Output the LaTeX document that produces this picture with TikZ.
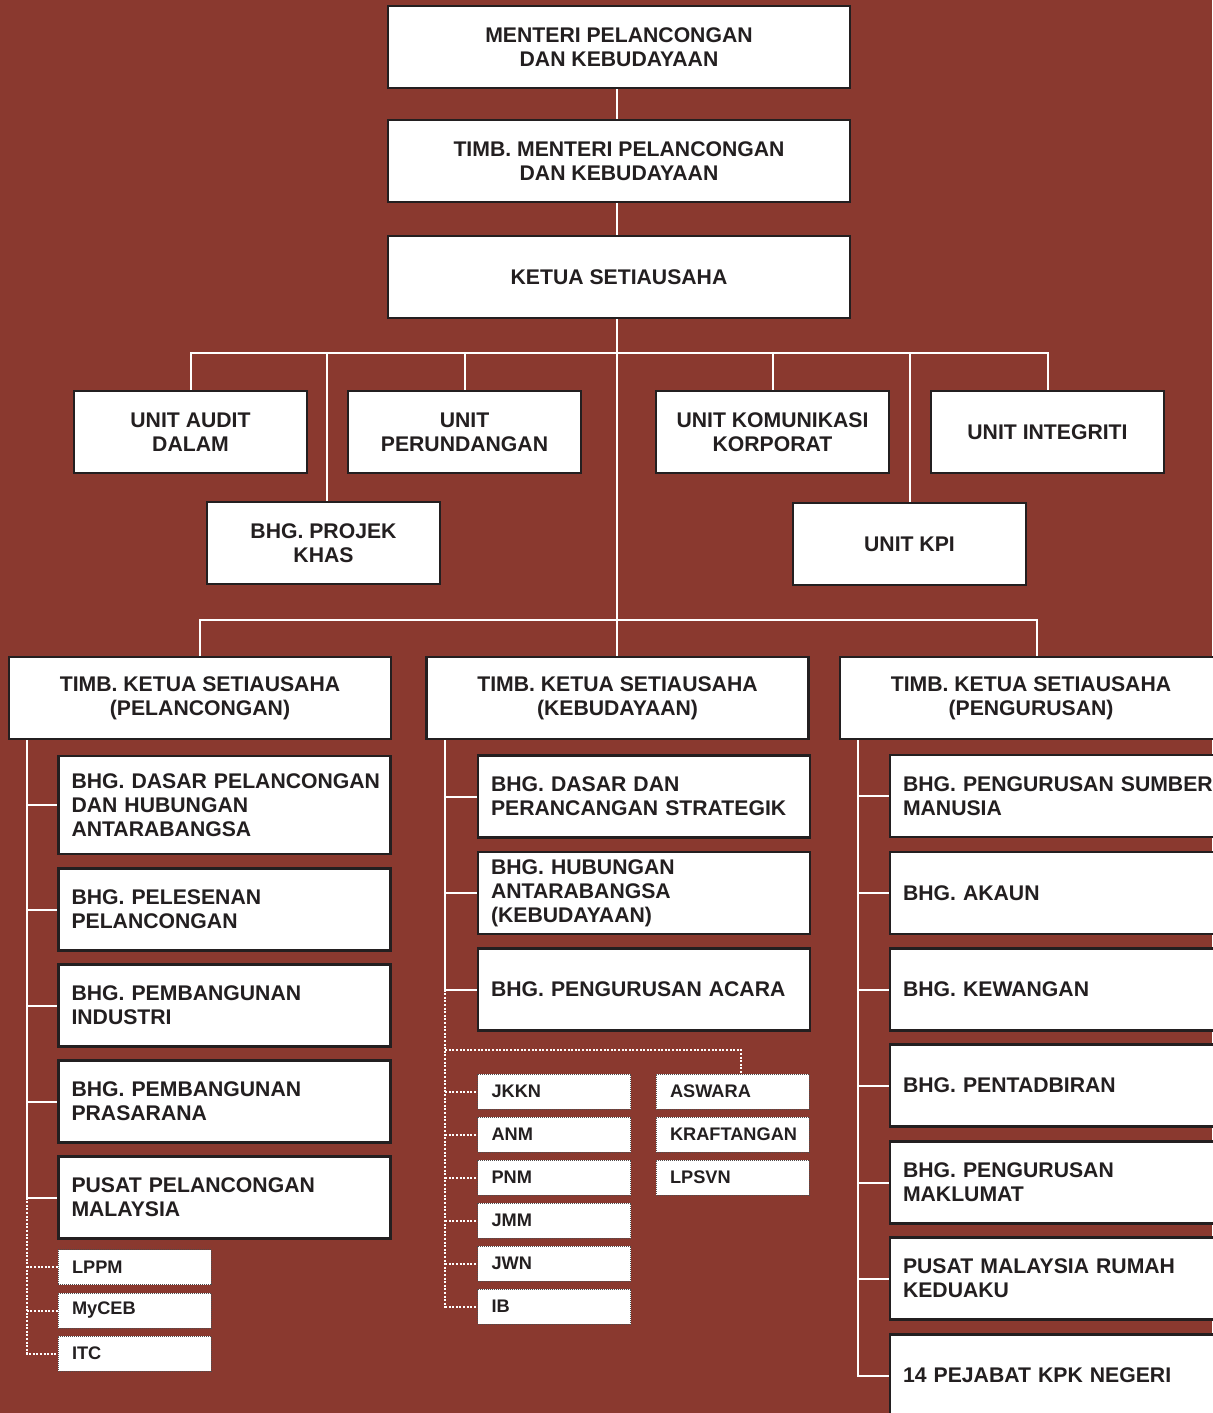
\documentclass[tikz,border=0pt]{standalone}
\usepackage{fontspec}
\setmainfont{Liberation Sans}
\definecolor{bgred}{RGB}{138,57,47}
\definecolor{boxline}{RGB}{35,31,32}

\begin{document}
\begin{tikzpicture}[x=0.5pt,y=-0.5pt]
  \tikzset{
    box/.style={draw=boxline, fill=white, line width=1.25pt, text=boxline,
      font=\bfseries\fontsize{10.6}{12}\selectfont, align=center,
      minimum height=41pt, inner sep=2pt},
    topbox/.style={box, minimum width=231pt},
    unitbox/.style={box, minimum width=116.5pt},
    tksbox/.style={box, minimum width=191pt},
    subbox/.style={box, align=left, text width=153pt, inner xsep=6.5pt},
    agency/.style={draw=boxline!80, dash pattern=on 0.5pt off 0.5pt, line width=0.5pt,
      fill=white, text=boxline, font=\bfseries\fontsize{9.1}{10}\selectfont,
      align=left, text width=62.5pt, inner xsep=7pt, minimum height=17.5pt},
    link/.style={draw=white, line width=1pt},
    dotlink/.style={draw=white, line width=1pt, dash pattern=on 1pt off 0.8pt},
  }
  \fill[bgred] (0,0) rectangle (1212,1413);
  \useasboundingbox (0,0) rectangle (1212,1413);

  % top of the ministry
  \node[topbox] (menteri) at (619,47) {MENTERI PELANCONGAN\\DAN KEBUDAYAAN};
  \node[topbox] (timb) at (619,161) {TIMB. MENTERI PELANCONGAN\\DAN KEBUDAYAAN};
  \node[topbox] (ksu) at (619,277) {KETUA SETIAUSAHA};

  % units under the KSU
  \node[unitbox] (audit) at (190.5,432) {UNIT AUDIT\\DALAM};
  \node[unitbox] (perundangan) at (464.5,432) {UNIT\\PERUNDANGAN};
  \node[unitbox] (komunikasi) at (772.5,432) {UNIT KOMUNIKASI\\KORPORAT};
  \node[unitbox] (integriti) at (1047.5,432) {UNIT INTEGRITI};
  \node[unitbox] (projek) at (323.5,543) {BHG. PROJEK\\KHAS};
  \node[unitbox] (kpi) at (909.5,544) {UNIT KPI};

  % the three deputies
  \node[tksbox] (tksuP) at (200,698) {TIMB. KETUA SETIAUSAHA\\(PELANCONGAN)};
  \node[tksbox] (tksuK) at (617.5,698) {TIMB. KETUA SETIAUSAHA\\(KEBUDAYAAN)};
  \node[tksbox] (tksuU) at (1031,698) {TIMB. KETUA SETIAUSAHA\\(PENGURUSAN)};

  % pelancongan
  \node[subbox, minimum height=49pt] (dasarP) at (224.5,805) {\mbox{BHG. DASAR PELANCONGAN}\\DAN HUBUNGAN\\ANTARABANGSA};
  \node[subbox] (pelesenan) at (224.5,909.5) {BHG. PELESENAN\\PELANCONGAN};
  \node[subbox] (industri) at (224.5,1005.5) {BHG. PEMBANGUNAN\\INDUSTRI};
  \node[subbox] (prasarana) at (224.5,1101.5) {BHG. PEMBANGUNAN\\PRASARANA};
  \node[subbox] (pusatP) at (224.5,1197.5) {PUSAT PELANCONGAN\\MALAYSIA};
  \node[agency] (lppm) at (134.5,1267) {LPPM};
  \node[agency] (myceb) at (134.5,1310.5) {MyCEB};
  \node[agency] (itc) at (134.5,1353.5) {ITC};

  % kebudayaan
  \node[subbox] (dasarK) at (644,796.5) {BHG. DASAR DAN\\PERANCANGAN STRATEGIK};
  \node[subbox] (hubungan) at (644,893) {BHG. HUBUNGAN\\ANTARABANGSA\\(KEBUDAYAAN)};
  \node[subbox] (acara) at (644,989.5) {BHG. PENGURUSAN ACARA};
  \node[agency] (jkkn) at (554,1091.5) {JKKN};
  \node[agency] (anm) at (554,1134.5) {ANM};
  \node[agency] (pnm) at (554,1177.5) {PNM};
  \node[agency] (jmm) at (554,1220.5) {JMM};
  \node[agency] (jwn) at (554,1263.5) {JWN};
  \node[agency] (ib) at (554,1306.5) {IB};
  \node[agency] (aswara) at (732.5,1091.5) {ASWARA};
  \node[agency] (kraftangan) at (732.5,1134.5) {KRAFTANGAN};
  \node[agency] (lpsvn) at (732.5,1177.5) {LPSVN};

  % pengurusan
  \node[subbox] (sumber) at (1056,796) {\mbox{BHG. PENGURUSAN SUMBER}\\MANUSIA};
  \node[subbox] (akaun) at (1056,893) {BHG. AKAUN};
  \node[subbox] (kewangan) at (1056,989.5) {BHG. KEWANGAN};
  \node[subbox] (pentadbiran) at (1056,1085.5) {BHG. PENTADBIRAN};
  \node[subbox] (maklumat) at (1056,1182.5) {BHG. PENGURUSAN\\MAKLUMAT};
  \node[subbox] (rumah) at (1056,1278.5) {PUSAT MALAYSIA RUMAH\\KEDUAKU};
  \node[subbox] (kpk) at (1056,1375.5) {14 PEJABAT KPK NEGERI};

  % links
  \coordinate (bus1) at (617,353);
  \coordinate (bus2) at (617,620);
  \coordinate (busA) at (741,1050);
  \draw[link] ([xshift=-1pt]menteri.south) -- ([xshift=-1pt]timb.north);
  \draw[link] ([xshift=-1pt]timb.south) -- ([xshift=-1pt]ksu.north);
  \draw[link] ([xshift=-1pt]ksu.south) -- ([xshift=-1pt]ksu.south |- tksuK.north);
  \draw[link] (audit.north) -- (audit.north |- bus1) -| (integriti.north);
  \draw[link] (perundangan.north) -- (perundangan.north |- bus1);
  \draw[link] (komunikasi.north) -- (komunikasi.north |- bus1);
  \draw[link] ([xshift=1.75pt]projek.north) -- ([xshift=1.75pt]projek.north |- bus1);
  \draw[link] (kpi.north) -- (kpi.north |- bus1);
  \draw[link] (tksuP.north) -- (tksuP.north |- bus2) -| ([xshift=3pt]tksuU.north);

  \path (tksuP.south west) ++(9.5pt,0) coordinate (trunkP);
  \path (tksuK.south west) ++(10pt,0) coordinate (trunkK);
  \path (tksuU.south west) ++(9.5pt,0) coordinate (trunkU);

  \draw[link] (trunkP) |- (pusatP.west);
  \foreach \n in {dasarP,pelesenan,industri,prasarana}
    \draw[link] (trunkP |- \n.west) -- (\n.west);
  \draw[dotlink] (trunkP |- pusatP.west) |- (itc.west);
  \foreach \n in {lppm,myceb}
    \draw[dotlink] (trunkP |- \n.west) -- (\n.west);

  \draw[link] (trunkK) |- (acara.west);
  \foreach \n in {dasarK,hubungan}
    \draw[link] (trunkK |- \n.west) -- (\n.west);
  \draw[dotlink] (trunkK |- acara.west) |- (ib.west);
  \foreach \n in {jkkn,anm,pnm,jmm,jwn}
    \draw[dotlink] (trunkK |- \n.west) -- (\n.west);
  \draw[dotlink] (trunkK |- busA) -| ([xshift=4.25pt]aswara.north);

  \draw[link] (trunkU) |- (kpk.west);
  \foreach \n in {sumber,akaun,kewangan,pentadbiran,maklumat,rumah}
    \draw[link] (trunkU |- \n.west) -- (\n.west);
\end{tikzpicture}
\end{document}
